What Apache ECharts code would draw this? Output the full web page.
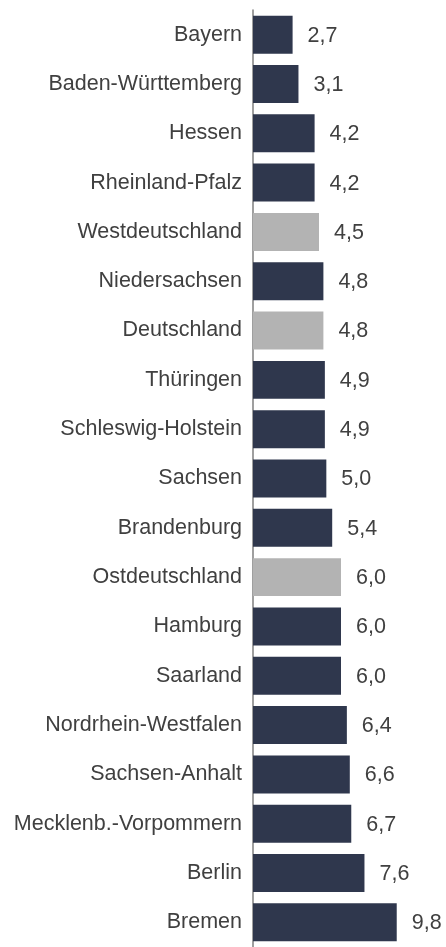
<!DOCTYPE html>
<html>
<head>
<meta charset="utf-8">
<script src="https://cdn.jsdelivr.net/npm/echarts@6/dist/echarts.min.js"></script>
<style>
  html, body { margin: 0; padding: 0; background: #fff; }
  #chart { width: 446px; height: 947px; }
</style>
</head>
<body>
<div id="chart"></div>
<script>
const categories = [
  "Bayern", "Baden-Württemberg", "Hessen", "Rheinland-Pfalz", "Westdeutschland",
  "Niedersachsen", "Deutschland", "Thüringen", "Schleswig-Holstein", "Sachsen",
  "Brandenburg", "Ostdeutschland", "Hamburg", "Saarland", "Nordrhein-Westfalen",
  "Sachsen-Anhalt", "Mecklenb.-Vorpommern", "Berlin", "Bremen"
]
const values = [2.7, 3.1, 4.2, 4.2, 4.5, 4.8, 4.8, 4.9, 4.9, 5.0, 5.4, 6.0, 6.0, 6.0, 6.4, 6.6, 6.7, 7.6, 9.8]
const aggregates = ["Westdeutschland", "Deutschland", "Ostdeutschland"]

const navy = "#2f374d"
const grey = "#b3b3b3"
const font = "Liberation Sans, Arial, sans-serif"

const chart = echarts.init(document.getElementById("chart"))
chart.setOption({
  animation: false,
  grid: { left: 253, top: 10, width: 176, height: 942 },
  xAxis: {
    type: "value",
    min: 0,
    max: 12,
    show: false
  },
  yAxis: {
    type: "category",
    inverse: true,
    data: categories,
    axisLine: { show: true, lineStyle: { color: "#7f7f7f", width: 1.5 } },
    axisTick: { show: false },
    axisLabel: {
      margin: 11,
      color: "#404040",
      fontSize: 21.5,
      fontFamily: font
    }
  },
  series: [{
    type: "bar",
    barCategoryGap: "23%",
    data: values.map((v, i) => ({
      value: v,
      itemStyle: { color: aggregates.includes(categories[i]) ? grey : navy }
    })),
    label: {
      show: true,
      position: "right",
      distance: 15,
      offset: [0, 1],
      color: "#404040",
      fontSize: 21.5,
      fontFamily: font,
      formatter: (p) => p.value.toFixed(1).replace(".", ",")
    }
  }]
})
</script>
</body>
</html>
